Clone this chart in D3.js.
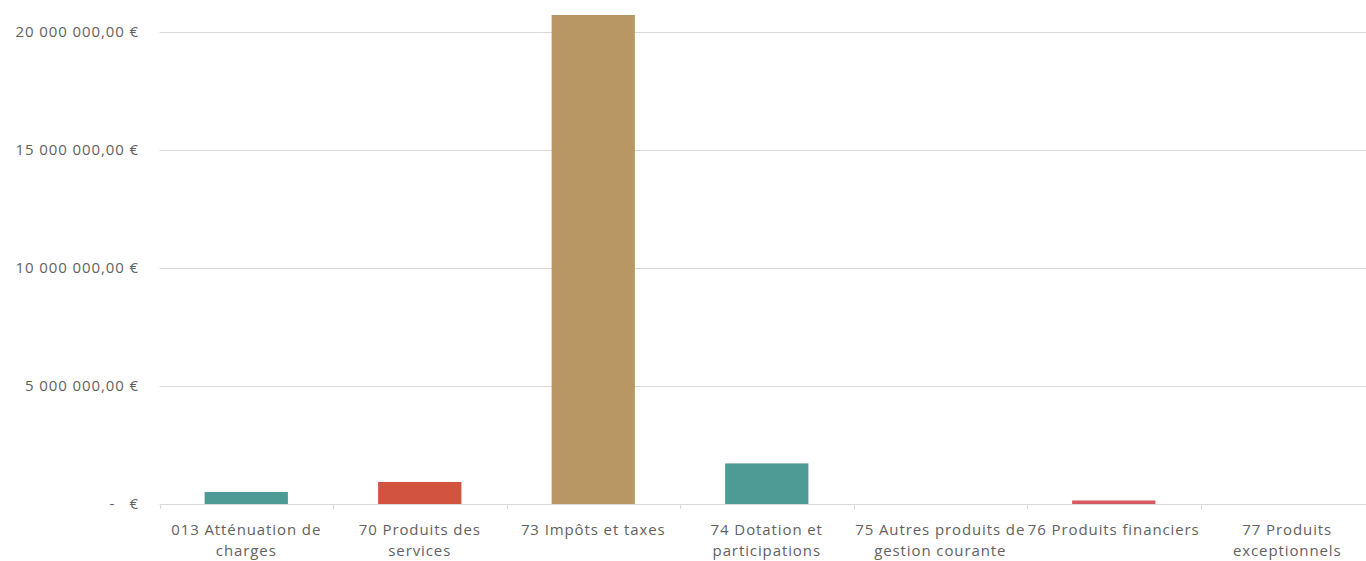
<!DOCTYPE html>
<html>
<head>
<meta charset="utf-8">
<script src="https://cdn.jsdelivr.net/npm/d3@7"></script>
<style>
  body { margin: 0; background: #fff; }
  text { font-family: "Open Sans", "Noto Sans", sans-serif; fill: #626262; letter-spacing: 0.9px; word-spacing: 0px; white-space: pre; }
</style>
</head>
<body>
<div id="chart"></div>
<script>
// chart data
var categories = [
    ["013 Atténuation de", "charges"],
    ["70 Produits des", "services"],
    ["73 Impôts et taxes"],
    ["74 Dotation et", "participations"],
    ["75 Autres produits de", "gestion courante"],
    ["76 Produits financiers"],
    ["77 Produits", "exceptionnels"]
];
var values = [510000, 935000, 20720000, 1720000, 0, 150000, 0];
var barColors = ["#4e9a94", "#d2543f", "#b99764", "#4e9a94", "#b99764", "#d75a63", "#4e9a94"];
var yTicks = [0, 5000000, 10000000, 15000000, 20000000];
var yTickLabels = ["-   €", "5 000 000,00 €", "10 000 000,00 €", "15 000 000,00 €", "20 000 000,00 €"];

var width = 1366, height = 561;
var margin = {top: 32, right: -8, bottom: 57, left: 159.5};

var svg = d3.select("#chart").append("svg")
    .attr("width", width)
    .attr("height", height);

var x = d3.scaleBand()
    .domain(d3.range(categories.length))
    .range([margin.left, width - margin.right])
    .paddingInner(0.52)
    .paddingOuter(0.26);

var y = d3.scaleLinear()
    .domain([0, 20000000])
    .range([height - margin.bottom, margin.top]);

// gridlines
svg.append("g")
    .selectAll("line")
    .data(yTicks)
    .enter().append("line")
    .attr("x1", margin.left)
    .attr("x2", width - margin.right)
    .attr("y1", function(d){ return Math.round(y(d)) + 0.5; })
    .attr("y2", function(d){ return Math.round(y(d)) + 0.5; })
    .attr("stroke", "#d9d9d9")
    .attr("stroke-width", 1);

// y labels
svg.append("g")
    .selectAll("text")
    .data(yTicks)
    .enter().append("text")
    .attr("x", 139)
    .attr("y", function(d){ return y(d); })
    .attr("dy", "0.35em")
    .attr("text-anchor", "end")
    .style("font-size", "15px")
    .text(function(d, i){ return yTickLabels[i]; });

// bars
svg.append("g")
    .selectAll("rect")
    .data(values)
    .enter().append("rect")
    .attr("x", function(d, i){ return x(i); })
    .attr("y", function(d){ return y(d); })
    .attr("width", x.bandwidth())
    .attr("height", function(d){ return y(0) - y(d); })
    .attr("fill", function(d, i){ return barColors[i]; });

// category tick marks
var step = x.step();
svg.append("g")
    .selectAll("line")
    .data(d3.range(categories.length + 1))
    .enter().append("line")
    .attr("x1", function(i){ return Math.round(margin.left + i * step) + 0.5; })
    .attr("x2", function(i){ return Math.round(margin.left + i * step) + 0.5; })
    .attr("y1", y(0))
    .attr("y2", y(0) + 5)
    .attr("stroke", "#d9d9d9");

// category labels
var labels = svg.append("g")
    .selectAll("text")
    .data(categories)
    .enter().append("text")
    .attr("x", function(d, i){ return x(i) + x.bandwidth() / 2; })
    .attr("y", 535)
    .attr("text-anchor", "middle")
    .style("font-size", "15px");

labels.selectAll("tspan")
    .data(function(d){ return d; })
    .enter().append("tspan")
    .attr("x", function(){ return d3.select(this.parentNode).attr("x"); })
    .attr("dy", function(d, i){ return i === 0 ? 0 : "1.4em"; })
    .text(function(d){ return d; });
</script>
</body>
</html>
